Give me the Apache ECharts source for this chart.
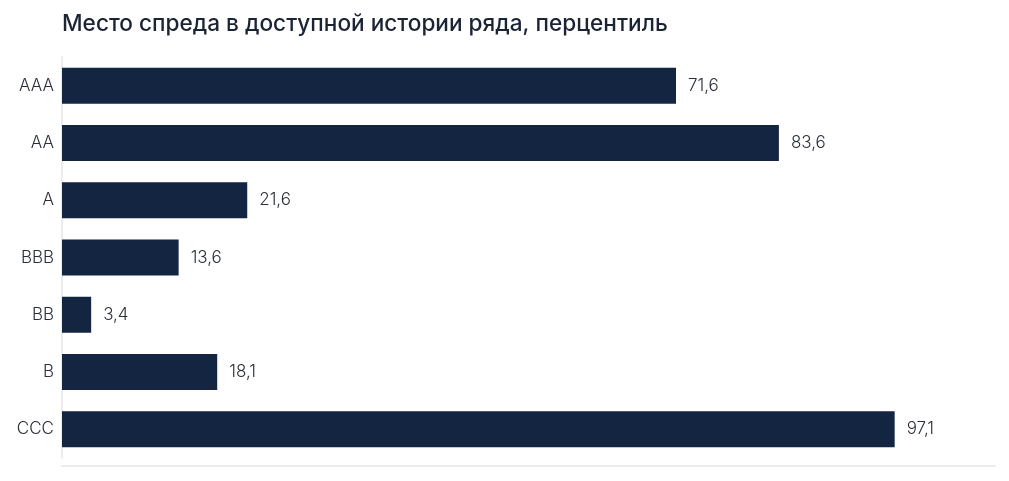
<!DOCTYPE html>
<html><head><meta charset="utf-8">
<script src="https://cdn.jsdelivr.net/npm/echarts@6/dist/echarts.min.js"></script>
<style>html,body{margin:0;padding:0;background:#fff}#c{width:1009px;height:481px}</style>
</head><body><div id="c"></div>
<script>
const categories = ["AAA","AA","A","BBB","BB","B","CCC"];
const values = [71.6, 83.6, 21.6, 13.6, 3.4, 18.1, 97.1];
const titleText = "Место спреда в доступной истории ряда, перцентиль";

const chart = echarts.init(document.getElementById('c'));
chart.setOption({
  animation: false,
  backgroundColor: '#ffffff',
  title: {
    text: titleText, left: 57, top: 8,
    textStyle: {fontFamily: 'Inter', fontSize: 22.6, fontWeight: 500, color: '#1b2433'}
  },
  grid: {left: 62, right: 14, top: 57, bottom: 23},
  xAxis: {
    type: 'value', min: 0, max: 108.8, offset: 8,
    axisLine: {show: true, lineStyle: {color: '#ececec', width: 2}},
    axisTick: {show: false}, axisLabel: {show: false}, splitLine: {show: false}
  },
  yAxis: {
    type: 'category', data: categories, inverse: true,
    axisLine: {show: true, lineStyle: {color: '#ececec', width: 2}},
    axisTick: {show: false},
    axisLabel: {fontFamily: 'Inter', fontSize: 17, fontWeight: 300, color: '#2a2f38', margin: 8}
  },
  series: [{
    type: 'bar', data: values, barWidth: 36,
    itemStyle: {color: '#132541'},
    label: {
      show: true, position: 'right', distance: 12,
      fontFamily: 'Inter', fontSize: 17, fontWeight: 300, color: '#2a2f38',
      formatter: p => String(p.value).replace('.', ',')
    }
  }]
});
</script></body></html>
